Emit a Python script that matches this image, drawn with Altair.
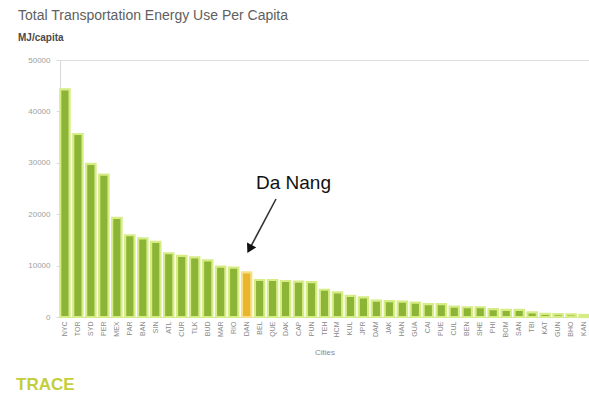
import altair as alt
import pandas as pd

# City codes (x axis) and transportation energy use per capita (MJ/capita)
cities = ["NYC", "TOR", "SYD", "PER", "MEX", "PAR", "BAN", "SIN", "ATL", "CUR",
          "TLK", "BUD", "MAR", "RIO", "DAN", "BEL", "QUE", "DAK", "CAP", "PUN",
          "TEH", "HCM", "KUL", "JPR", "DAM", "JAK", "HAN", "GUA", "CAI", "PUE",
          "CUL", "BEN", "SHE", "PHI", "BOM", "SAN", "TBI", "KAT", "GUN", "BHO",
          "KAN"]
energy = [44300, 35600, 29800, 27700, 19300, 15900, 15300, 14600, 12400, 11900,
          11600, 11000, 9800, 9600, 8700, 7200, 7200, 7000, 6900, 6800,
          5300, 4800, 4100, 3800, 3200, 3100, 3000, 2800, 2500, 2500,
          2000, 1900, 1900, 1550, 1400, 1400, 900, 600, 550, 500,
          400]
highlight_city = "DAN"

y_ticks = [0, 10000, 20000, 30000, 40000, 50000]

df = pd.DataFrame({"city": cities, "energy": energy})
df["is_focus"] = df["city"] == highlight_city

PLOT_W, PLOT_H = 529, 257
LEFT, TOP = 60, 60

bars = alt.Chart(df).mark_bar(strokeWidth=2.2, strokeOpacity=1).encode(
    x=alt.X("city:N", sort=cities,
            scale=alt.Scale(paddingInner=0.28, paddingOuter=0.02),
            axis=alt.Axis(title="Cities", labelAngle=270, labelFontSize=7,
                          labelColor="#8a8a8a", labelPadding=4, ticks=False,
                          domainColor="#dddddd", titleFontSize=8,
                          titleFontWeight="normal", titleColor="#8a8a8a",
                          titlePadding=12, labelFont="Liberation Sans",
                          titleFont="Liberation Sans")),
    y=alt.Y("energy:Q",
            scale=alt.Scale(domain=[0, 50000], nice=False),
            axis=alt.Axis(title=None, values=y_ticks, format="d", grid=False,
                          labelFontSize=8, labelColor="#a0a0a0", tickSize=4,
                          tickColor="#dddddd", domainColor="#d8d8d8",
                          labelPadding=6, labelFont="Liberation Sans")),
    color=alt.Color("is_focus:N", legend=None,
                    scale=alt.Scale(domain=[False, True],
                                    range=["#8cb437", "#e8b52c"])),
    stroke=alt.Stroke("is_focus:N", legend=None,
                      scale=alt.Scale(domain=[False, True],
                                      range=["#d6ec84", "#f6df84"])),
)


def label(text, x, y, size, color, weight="normal", font="Liberation Sans",
          align="left"):
    return alt.Chart(pd.DataFrame({"t": [text]})).mark_text(
        align=align, baseline="alphabetic", fontSize=size, color=color,
        fontWeight=weight, font=font,
    ).encode(x=alt.value(x - LEFT), y=alt.value(y - TOP), text="t:N")


title = label("Total Transportation Energy Use Per Capita", 18, 20, 14, "#606060")
unit = label("MJ/capita", 18, 41, 10, "#4a4a4a", weight="bold")
callout = label("Da Nang", 256, 189, 19, "#111111")
logo = label("TRACE", 16, 390, 17, "#c3cf3a", weight="bold")

# Arrow pointing at the Da Nang bar
arrow_line = alt.Chart(pd.DataFrame({"t": [0]})).mark_rule(
    color="#333333", strokeWidth=1.6
).encode(x=alt.value(276 - LEFT), y=alt.value(199 - TOP),
         x2=alt.value(250 - LEFT), y2=alt.value(248 - TOP))

arrow_head = alt.Chart(pd.DataFrame({"t": [0]})).mark_point(
    shape="triangle-up", filled=True, color="#111111", size=110,
    angle=208, opacity=1
).encode(x=alt.value(249.5 - LEFT), y=alt.value(249 - TOP))

chart = alt.layer(
    bars, title, unit, callout, logo, arrow_line, arrow_head
).properties(
    width=PLOT_W, height=PLOT_H,
    autosize=alt.AutoSizeParams(type="none"),
    padding={"left": LEFT, "top": TOP, "right": 0, "bottom": 399 - TOP - PLOT_H},
).configure_view(stroke=None).configure(background="white")

chart.save("out.html", embed_options={"renderer": "svg", "actions": False})
